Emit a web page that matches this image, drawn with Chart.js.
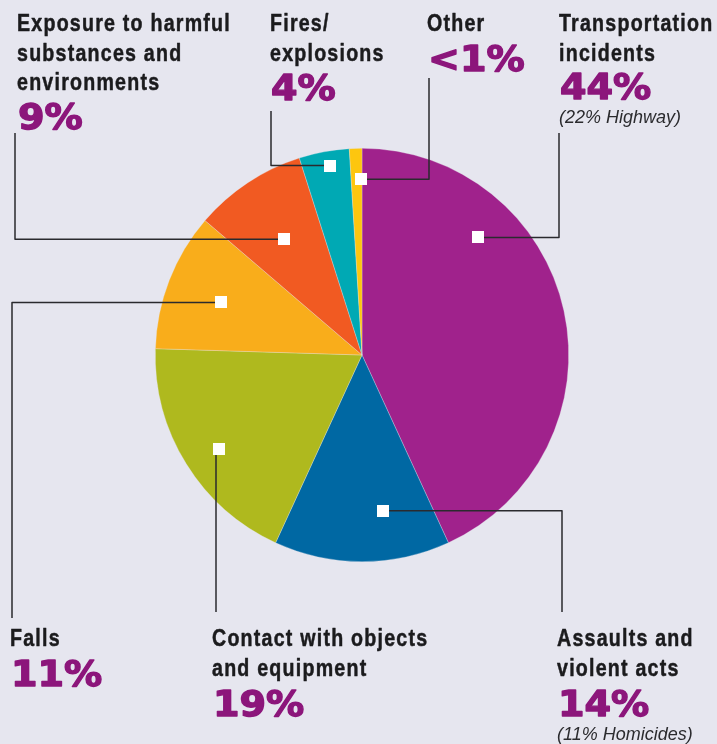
<!DOCTYPE html>
<html>
<head>
<meta charset="utf-8">
<script src="https://cdn.jsdelivr.net/npm/chart.js@4/dist/chart.umd.min.js"></script>
<style>
  html, body { margin: 0; padding: 0; background: #e6e6ef; }
  #wrap { position: relative; width: 717px; height: 744px; }
</style>
</head>
<body>
<div id="wrap"><canvas id="pie" width="717" height="744"></canvas></div>
<script>
// ── data ─────────────────────────────────────────
const categories = [
  'Transportation incidents', 'Assaults and violent acts', 'Contact with objects and equipment',
  'Falls', 'Exposure to harmful substances and environments', 'Fires/explosions', 'Other'
];
const shares     = [44, 14, 19, 11, 9, 4, 1];
const shareText  = ['44%', '14%', '19%', '11%', '9%', '4%', '<1%'];
const labelLines = [
  ['Transportation', 'incidents'],
  ['Assaults and', 'violent acts'],
  ['Contact with objects', 'and equipment'],
  ['Falls'],
  ['Exposure to harmful', 'substances and', 'environments'],
  ['Fires/', 'explosions'],
  ['Other']
];
const notes  = ['(22% Highway)', '(11% Homicides)', '', '', '', '', ''];
const colors = ['#a0228c', '#0068a3', '#afb91e', '#f9ad1b', '#f15a22', '#00a9b4', '#fdc60f'];

// ── callout layout (marker polar pos, elbow, text anchors) ──
// ang: degrees clockwise from top, rf: fraction of radius
const callouts = [
  { ang: 44.7,  rf: 0.80,  elbowX: 559, endY: 133, tx: 559, ty: 31,  py: 99  },
  { ang: 172.3, rf: 0.76,  elbowX: 562, endY: 612, tx: 557, ty: 646, py: 716 },
  { ang: 236.6, rf: 0.83,  elbowX: 216, endY: 612, tx: 212, ty: 646, py: 716, vertOnly: true },
  { ang: 290.4, rf: 0.73,  elbowX: 12,  endY: 618, tx: 10,  ty: 646, py: 686 },
  { ang: 326.1, rf: 0.675, elbowX: 15,  endY: 133, tx: 17,  ty: 31,  py: 129 },
  { ang: 350.3, rf: 0.93,  elbowX: 271, endY: 111, tx: 270, ty: 31,  py: 100 },
  { ang: 359.7, rf: 0.85,  elbowX: 429, endY: 78,  tx: 427, ty: 31,  py: 71  }
];

const NAME_FONT = 'bold 24px "Liberation Sans", Arial, sans-serif';
const PCT_FONT  = 'bold 36px "DejaVu Sans", Verdana, sans-serif';
const NOTE_FONT = 'italic 18px "Liberation Sans", Arial, sans-serif';

const calloutPlugin = {
  id: 'callouts',
  afterDatasetsDraw(chart) {
    const c = chart.ctx;
    const arcs = chart.getDatasetMeta(0).data;
    c.save();
    c.font = NAME_FONT;
    c.letterSpacing = '1.5px';
    const nameScale = 214 / c.measureText('Exposure to harmful').width;
    c.letterSpacing = '0px';
    c.lineJoin = 'round';

    callouts.forEach((co, i) => {
      const arc = arcs[i];
      const a = co.ang * Math.PI / 180;
      const r = arc.outerRadius * co.rf;
      const mx = arc.x + r * Math.sin(a);
      const my = arc.y - r * Math.cos(a);

      // connector
      c.strokeStyle = '#2a2a2e';
      c.lineWidth = 1.5;
      c.beginPath();
      if (co.vertOnly) {
        c.moveTo(co.elbowX, my);
        c.lineTo(co.elbowX, co.endY);
      } else {
        c.moveTo(mx, my);
        c.lineTo(co.elbowX, my);
        c.lineTo(co.elbowX, co.endY);
      }
      c.stroke();

      // marker
      c.fillStyle = '#ffffff';
      c.fillRect(Math.round(mx - 6), Math.round(my - 6), 12, 12);

      // name lines (condensed, tracked)
      c.textAlign = 'left';
      c.textBaseline = 'alphabetic';
      c.fillStyle = '#1b1b1d';
      c.strokeStyle = '#1b1b1d';
      c.lineWidth = 0.5;
      c.font = NAME_FONT;
      c.letterSpacing = '1.5px';
      labelLines[i].forEach((ln, k) => {
        c.save();
        c.translate(co.tx, co.ty + k * 29.5);
        c.scale(nameScale, 1);
        c.fillText(ln, 0, 0);
        c.strokeText(ln, 0, 0);
        c.restore();
      });
      c.letterSpacing = '0px';

      // percentage (heavy, slightly extended)
      c.fillStyle = '#8c167b';
      c.strokeStyle = '#8c167b';
      c.lineWidth = 1.4;
      c.font = PCT_FONT;
      c.save();
      c.translate(co.tx + 1, co.py);
      c.scale(1.06, 1);
      c.fillText(shareText[i], 0, 0);
      c.strokeText(shareText[i], 0, 0);
      c.restore();

      if (notes[i]) {
        c.fillStyle = '#2b2b2e';
        c.font = NOTE_FONT;
        c.fillText(notes[i], co.tx, co.py + 24);
      }
    });
    c.restore();
  }
};

new Chart(document.getElementById('pie'), {
  type: 'pie',
  data: {
    labels: categories,
    datasets: [{
      data: shares,
      backgroundColor: colors,
      borderWidth: 0.6,
      borderColor: 'rgba(230,230,239,0.5)'
    }]
  },
  options: {
    responsive: false,
    animation: false,
    layout: { padding: { left: 155, right: 148, top: 148, bottom: 182 } },
    plugins: { legend: { display: false }, tooltip: { enabled: false } }
  },
  plugins: [calloutPlugin]
});
</script>
</body>
</html>
